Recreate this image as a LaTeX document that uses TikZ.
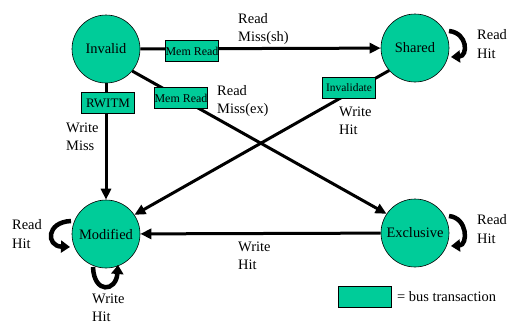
\documentclass[tikz,border=0pt]{standalone}
\usepackage{fontspec}
\setmainfont{Liberation Serif}
\usetikzlibrary{arrows.meta}
\definecolor{teal}{RGB}{0,204,153}
\tikzset{
  state/.style={circle,draw=black,line width=0.6bp,fill=teal,minimum size=68bp,inner sep=0pt,font=\fontsize{14.5}{17}\selectfont},
  trans/.style={line width=3bp,-{Triangle[length=11bp,width=10bp]}},
  loopa/.style={line width=4.5bp,-{Triangle[length=9bp,width=12bp]}},
  bus/.style={draw=black,line width=0.6bp,fill=teal,minimum width=53bp,minimum height=21bp,inner sep=0pt,font=\fontsize{12}{14}\selectfont},
  lbl/.style={align=left,anchor=west,inner sep=0pt,font=\fontsize{14.5}{18.5}\selectfont},
}
\begin{document}
\begin{tikzpicture}[x=1bp,y=-1bp]
\useasboundingbox (0,0) rectangle (510,326);
\node[state] (inv) at (106,49) {Invalid};
\node[state] (sha) at (415,48) {Shared};
\node[state] (mod) at (106,234) {Modified};
\node[state] (exc) at (415,233) {Exclusive};
% transitions
\draw[trans] (inv) -- (sha);
\draw[trans] (inv.-40) -- (exc.146);
\draw[trans] (inv) -- (mod);
\draw[trans] (sha.-139) -- (mod.34);
\draw[trans] (exc) -- (mod);
% bus boxes
\node[bus] (b1) at (192,51) {Mem Read};
\node[bus] (b2) at (181,98) {Mem Read};
\node[bus,font=\fontsize{13}{15}\selectfont] (b3) at (108,103) {RWITM};
\node[bus,font=\fontsize{11.5}{14}\selectfont] (b4) at (349,88) {Invalidate};
% self loops
\coordinate (s1) at (449,31);
\coordinate (s2) at (451,57);
\draw[loopa] (s1) .. controls (468,33) and (468,56) .. (s2);
\coordinate (e1) at (449,216);
\coordinate (e2) at (451,246);
\draw[loopa] (e1) .. controls (468,218) and (468,245) .. (e2);
\coordinate (m1) at (71,221);
\coordinate (m2) at (70,247);
\draw[loopa] (m1) .. controls (46,222) and (46,246) .. (m2);
\coordinate (w1) at (93,267);
\coordinate (w2) at (118,265);
\draw[loopa] (w1) .. controls (94,294) and (116,292) .. (w2);
% labels
\node[lbl] (l1) at (238,29) {Read\\Miss(sh)};
\node[lbl] (l2) at (217,101) {Read\\Miss(ex)};
\node[lbl] (l3) at (66,137) {Write\\Miss};
\node[lbl] (l4) at (339,121) {Write\\Hit};
\node[lbl] (l5) at (477,44) {Read\\Hit};
\node[lbl] (l6) at (477,229) {Read\\Hit};
\node[lbl] (l7) at (12,234) {Read\\Hit};
\node[lbl] (l8) at (92,308) {Write\\Hit};
\node[lbl] (l9) at (238,256) {Write\\Hit};
% legend
\node[bus] (leg) at (365,297) {};
\node[lbl] (legt) at (397,297) {= bus transaction};
\end{tikzpicture}
\end{document}
